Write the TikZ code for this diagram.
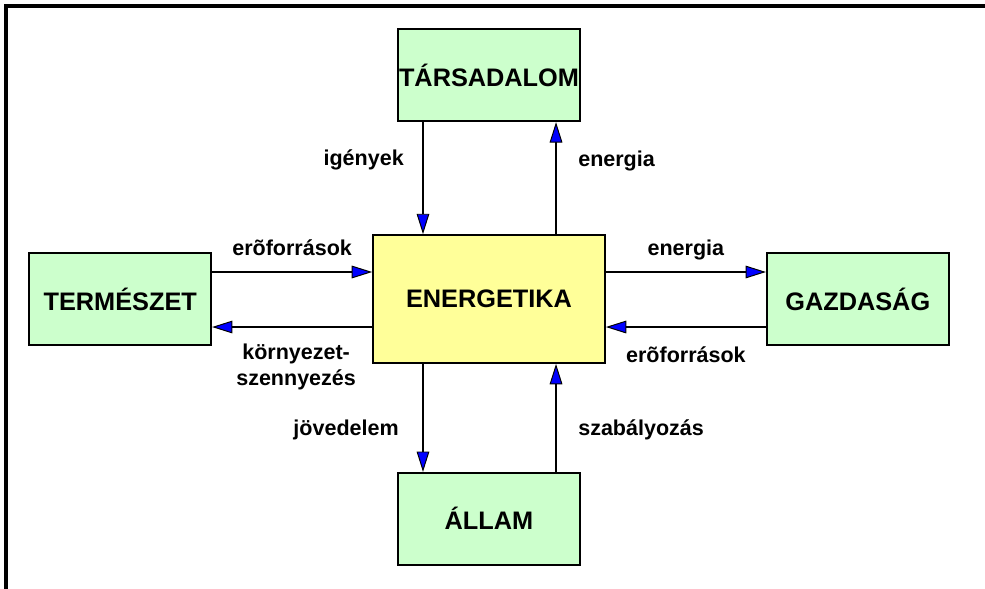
\documentclass[tikz,border=0pt]{standalone}
\usepackage{fontspec}
\setmainfont{Liberation Sans}
\usetikzlibrary{arrows.meta, positioning}

\definecolor{boxgreen}{HTML}{CCFFCC}
\definecolor{boxyellow}{HTML}{FFFF99}

\begin{document}
\begin{tikzpicture}[x=0.025cm, y=-0.025cm,
	box/.style={draw=black, line width=1.2pt, fill=boxgreen, inner sep=0pt, minimum width=4.55cm, minimum height=2.3cm, font=\bfseries\fontsize{18}{21}\selectfont},
	hub/.style={box, fill=boxyellow, minimum width=5.8cm, minimum height=3.2cm},
	lbl/.style={inner sep=0pt, font=\bfseries\fontsize{15.3}{18.5}\selectfont, align=center},
	flow/.style={line width=1.8pt, -{Triangle[length=14.5pt, width=9pt, fill=blue, line width=0.7pt]}}]
	\useasboundingbox (0,0) rectangle (985,588);
	\draw[line width=2.2pt] (1100,6) -- (6,6) -- (6,700);
	% Specification of nodes (position, etc.)
	\node (Energetika)	[hub] at (489,299)					{ENERGETIKA};
	\node (Tarsadalom)	[box, above=2.8cm of Energetika]	{TÁRSADALOM};
	\node (Termeszet)	[box, left=4cm of Energetika]		{TERMÉSZET};
	\node (Gazdasag)	[box, right=4cm of Energetika]		{GAZDASÁG};
	\node (Allam)		[box, below=2.7cm of Energetika]	{ÁLLAM};
	% Connectors
	\draw[flow]	([xshift=-1.65cm]Tarsadalom.south) -- node[lbl, pos=0.39, anchor=base east, xshift=-0.45cm]{igények} ([xshift=-1.65cm]Energetika.north);
	\draw[flow]	([xshift=1.675cm]Energetika.north) -- node[lbl, pos=0.6, anchor=base west, xshift=0.525cm]{energia} ([xshift=1.675cm]Tarsadalom.south);
	\draw[flow]	([yshift=0.675cm]Termeszet.east) -- node[lbl, anchor=base, yshift=0.4cm]{erõforrások} ([yshift=0.675cm]Energetika.west);
	\draw[flow]	([yshift=-0.7cm]Energetika.west) -- node[lbl, anchor=north, yshift=-0.38cm, xshift=0.1cm]{környezet-\\szennyezés} ([yshift=-0.7cm]Termeszet.east);
	\draw[flow]	([yshift=0.675cm]Energetika.east) -- node[lbl, anchor=base, yshift=0.4cm]{energia} ([yshift=0.675cm]Gazdasag.west);
	\draw[flow]	([yshift=-0.7cm]Gazdasag.west) -- node[lbl, anchor=base, yshift=-0.875cm]{erõforrások} ([yshift=-0.7cm]Energetika.east);
	\draw[flow]	([xshift=-1.65cm]Energetika.south) -- node[lbl, pos=0.667, anchor=base east, xshift=-0.575cm]{jövedelem} ([xshift=-1.65cm]Allam.north);
	\draw[flow]	([xshift=1.675cm]Allam.north) -- node[lbl, pos=0.333, anchor=base west, xshift=0.525cm]{szabályozás} ([xshift=1.675cm]Energetika.south);
\end{tikzpicture}
\end{document}
